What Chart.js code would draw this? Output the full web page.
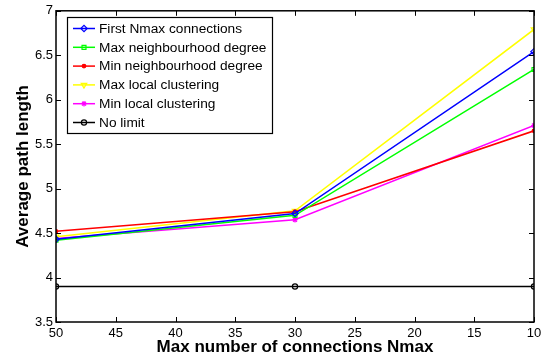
<!DOCTYPE html>
<html>
<head>
<meta charset="utf-8">
<script src="https://cdn.jsdelivr.net/npm/chart.js@4/dist/chart.umd.min.js"></script>
<style>
  html, body { margin: 0; padding: 0; background: #fff; }
  #wrap { width: 547px; height: 360px; }
</style>
</head>
<body>
<div id="wrap"><canvas id="grafica" width="547" height="360"></canvas></div>
<script>
// Datos
var nmax = [50, 30, 10];
var firstNmax = [4.43, 4.72, 6.54];
var maxNeigh = [4.42, 4.70, 6.34];
var minNeigh = [4.52, 4.74, 5.65];
var maxClust = [4.46, 4.75, 6.79];
var minClust = [4.44, 4.65, 5.71];
var noLimit = [3.9, 3.9, 3.9];

var etiquetas = [
    "First Nmax connections",
    "Max neighbourhood degree",
    "Min neighbourhood degree",
    "Max local clustering",
    "Min local clustering",
    "No limit"
];
var xTicks = [50, 45, 40, 35, 30, 25, 20, 15, 10];
var yTicks = [3.5, 4, 4.5, 5, 5.5, 6, 6.5, 7];
var xTitle = "Max number of connections Nmax";
var yTitle = "Average path length";

function puntos(ys) {
    return nmax.map(function (x, i) { return { x: x, y: ys[i] }; });
}

function serie(label, ys, color, estilo, fondo, radio, rot) {
    return {
        label: label,
        data: puntos(ys),
        borderColor: color,
        backgroundColor: fondo,
        borderWidth: 1.5,
        pointStyle: estilo,
        pointRadius: radio,
        pointBorderColor: color,
        pointBackgroundColor: fondo,
        pointBorderWidth: 1.2,
        pointRotation: rot || 0,
        tension: 0,
        fill: false
    };
}

var datasets = [
    serie(etiquetas[0], firstNmax, "#0000ff", "rectRot", "rgba(0,0,0,0)", 3.2),
    serie(etiquetas[1], maxNeigh, "#00ff00", "rect", "rgba(0,0,0,0)", 2.8),
    serie(etiquetas[2], minNeigh, "#ff0000", "circle", "#ff0000", 1.8),
    serie(etiquetas[3], maxClust, "#ffff00", "triangle", "rgba(0,0,0,0)", 3.2, 180),
    serie(etiquetas[4], minClust, "#ff00ff", "star", "rgba(0,0,0,0)", 2.8),
    serie(etiquetas[5], noLimit, "#000000", "circle", "rgba(0,0,0,0)", 2.6)
];

var fuente = "'Liberation Sans', Arial, Helvetica, sans-serif";

// Marcas hacia dentro, caja, titulos y leyenda estilo MATLAB
var estiloMatlab = {
    id: "estiloMatlab",
    afterDraw: function (chart) {
        var c = chart.ctx;
        var a = chart.chartArea;
        var xs = chart.scales.x;
        var ys = chart.scales.y;
        c.save();
        c.strokeStyle = "#000";
        c.lineWidth = 1;
        var len = 5;
        xTicks.forEach(function (v) {
            var px = Math.round(xs.getPixelForValue(v)) + 0.5;
            c.beginPath();
            c.moveTo(px, a.bottom); c.lineTo(px, a.bottom - len);
            c.moveTo(px, a.top); c.lineTo(px, a.top + len);
            c.stroke();
        });
        yTicks.forEach(function (v) {
            var py = Math.round(ys.getPixelForValue(v)) + 0.5;
            c.beginPath();
            c.moveTo(a.left, py); c.lineTo(a.left + len, py);
            c.moveTo(a.right, py); c.lineTo(a.right - len, py);
            c.stroke();
        });
        c.lineWidth = 1.5;
        c.strokeRect(a.left, a.top, a.right - a.left, a.bottom - a.top);

        // titulos de los ejes
        c.fillStyle = "#000";
        c.font = "bold 17px " + fuente;
        c.textAlign = "center";
        c.textBaseline = "middle";
        c.fillText(xTitle, (a.left + a.right) / 2, 347);
        c.save();
        c.translate(23, (a.top + a.bottom) / 2);
        c.rotate(-Math.PI / 2);
        c.fillText(yTitle, 0, 0);
        c.restore();

        // leyenda
        var bx = 67, by = 17, bw = 205, bh = 116;
        c.fillStyle = "#fff";
        c.fillRect(bx, by, bw, bh);
        c.lineWidth = 1.2;
        c.strokeStyle = "#000";
        c.strokeRect(bx + 0.5, by + 0.5, bw, bh);
        c.font = "13.7px " + fuente;
        c.textAlign = "left";
        chart.data.datasets.forEach(function (ds, i) {
            var yy = 28.5 + i * 18.8;
            c.strokeStyle = ds.borderColor;
            c.lineWidth = 1.5;
            c.beginPath();
            c.moveTo(73, yy); c.lineTo(95, yy);
            c.stroke();
            c.fillStyle = ds.pointBackgroundColor;
            c.strokeStyle = ds.pointBorderColor;
            c.lineWidth = ds.pointBorderWidth;
            Chart.helpers.drawPoint(c, {
                pointStyle: ds.pointStyle,
                rotation: ds.pointRotation,
                radius: ds.pointRadius,
                borderWidth: ds.pointBorderWidth
            }, 84, yy);
            c.fillStyle = "#000";
            c.fillText(ds.label, 99, yy + 0.5);
        });
        c.restore();
    }
};

var ctx = document.getElementById("grafica");
window.myLine = new Chart(ctx, {
    type: "line",
    data: { datasets: datasets },
    plugins: [estiloMatlab],
    options: {
        responsive: false,
        animation: false,
        layout: { padding: { left: 0, top: 7, right: 13, bottom: 0 } },
        plugins: {
            legend: { display: false },
            tooltip: { enabled: false },
            title: { display: false }
        },
        scales: {
            x: {
                type: "linear",
                reverse: true,
                min: 10,
                max: 50,
                border: { display: false },
                grid: { display: false, drawTicks: false },
                afterFit: function (s) { s.height = 38; },
                afterBuildTicks: function (s) {
                    s.ticks = xTicks.map(function (v) { return { value: v }; });
                },
                ticks: {
                    padding: 4,
                    color: "#000",
                    font: { family: fuente, size: 13 },
                    maxRotation: 0,
                    callback: function (v) { return String(v); }
                }
            },
            y: {
                min: 3.5,
                max: 7,
                border: { display: false },
                grid: { display: false, drawTicks: false },
                afterFit: function (s) { s.width = 56; },
                afterBuildTicks: function (s) {
                    s.ticks = yTicks.map(function (v) { return { value: v }; });
                },
                ticks: {
                    padding: 3,
                    color: "#000",
                    font: { family: fuente, size: 13 },
                    callback: function (v) { return String(v); }
                }
            }
        }
    }
});
</script>
</body>
</html>
